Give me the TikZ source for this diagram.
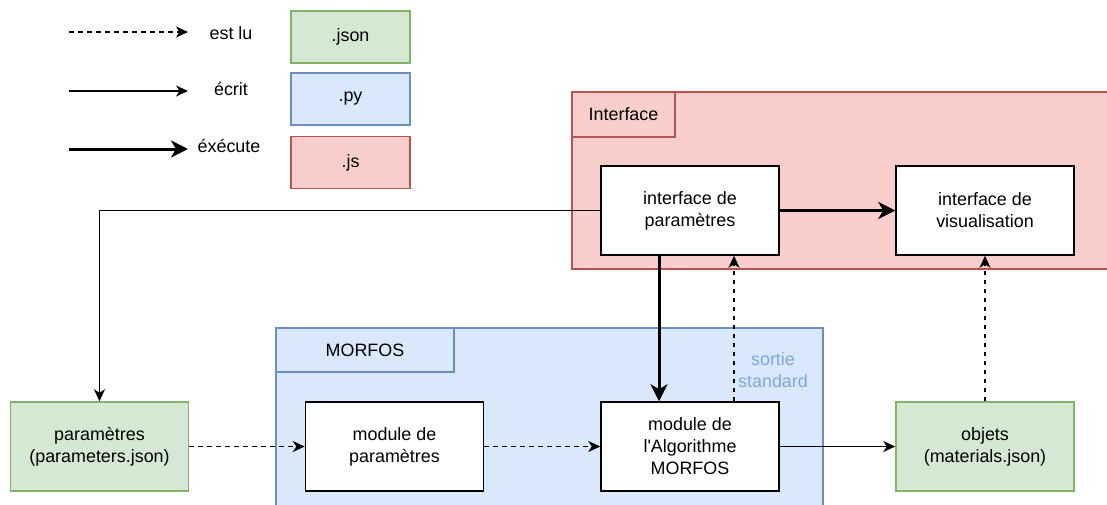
\documentclass[tikz,border=0pt]{standalone}
\usepackage{fontspec}
\setmainfont{Liberation Sans}
\usetikzlibrary{arrows.meta}
\definecolor{gfill}{HTML}{D5E8D4}
\definecolor{gline}{HTML}{82B366}
\definecolor{bfill}{HTML}{DAE8FC}
\definecolor{bline}{HTML}{6C8EBF}
\definecolor{rfill}{HTML}{F8CECC}
\definecolor{rline}{HTML}{B85450}
\definecolor{sortiec}{HTML}{7EA6E0}
\begin{document}
\begin{tikzpicture}[x=1pt,y=-1pt,
  font=\fontsize{17.9}{22}\selectfont,
  base/.style={line width=1.5pt, align=center, inner sep=0pt, minimum width=178pt, minimum height=89pt},
  wbox/.style={base, draw=black, fill=white},
  gbox/.style={base, draw=gline, fill=gfill},
  legbox/.style={line width=1.5pt, inner sep=0pt, minimum width=119pt, minimum height=52pt},
  tab/.style={line width=1.5pt, inner sep=0pt},
  lbl/.style={inner sep=0pt, align=center},
  readarrow/.style={line width=1.5pt, dash pattern=on 4.5pt off 4.5pt, -{Stealth[length=12pt,width=11pt,inset=3.5pt]}},
  writearrow/.style={line width=1.5pt, -{Stealth[length=12pt,width=11pt,inset=3.5pt]}},
  execarrow/.style={line width=3pt, -{Stealth[length=17pt,width=17pt,inset=5pt]}}
]
\useasboundingbox (0,0) rectangle (1107,504);

% containers
\draw[line width=1.5pt, draw=rline, fill=rfill] (572,92) rectangle (1115,269);
\node[tab, draw=rline, fill=rfill, minimum width=103pt, minimum height=45pt] (itab) at (623.5,114.5) {Interface};
\draw[line width=1.5pt, draw=bline, fill=bfill] (276,328) rectangle (823,515);
\node[tab, draw=bline, fill=bfill, minimum width=178pt, minimum height=44pt] (mtab) at (365,350) {MORFOS};

% legend
\coordinate (l1a) at (69,32);  \coordinate (l1b) at (188,32);
\coordinate (l2a) at (69,91);  \coordinate (l2b) at (188,91);
\coordinate (l3a) at (69,149); \coordinate (l3b) at (188,149);
\draw[readarrow] (l1a) -- (l1b);
\draw[writearrow] (l2a) -- (l2b);
\draw[execarrow] (l3a) -- (l3b);
\node[lbl] (t1) at (231,33) {est lu};
\node[lbl] (t2) at (231,89) {écrit};
\node[lbl] (t3) at (229,146) {éxécute};
\node[legbox, draw=gline, fill=gfill] (kjson) at (350.5,37) {.json};
\node[legbox, draw=bline, fill=bfill] (kpy) at (350.5,99) {.py};
\node[legbox, draw=rline, fill=rfill] (kjs) at (350.5,162.5) {.js};

% nodes
\node[wbox] (ip) at (690,210.5) {interface de\\paramètres};
\node[wbox] (vis) at (985,210.5) {interface de\\visualisation};
\node[gbox] (pj) at (99.5,446.5) {paramètres\\(parameters.json)};
\node[wbox] (mp) at (394.5,446.5) {module de\\paramètres};
\node[wbox] (alg) at (690,446.5) {module de\\l\textquotesingle Algorithme\\MORFOS};
\node[gbox] (obj) at (985,446.5) {objets\\(materials.json)};
\node[lbl, text=sortiec] (sortie) at (773,370) {sortie\\standard};

% connectors
\draw[writearrow] (ip.west) -| (pj.north);
\draw[execarrow] (ip) -- (vis);
\draw[readarrow] (pj) -- (mp);
\draw[readarrow] (mp) -- (alg);
\draw[writearrow] (alg) -- (obj);
\draw[execarrow] ([xshift=-31pt]ip.south) -- ([xshift=-31pt]alg.north);
\draw[readarrow] ([xshift=44pt]alg.north) -- ([xshift=44pt]ip.south);
\draw[readarrow] (obj) -- (vis);
\end{tikzpicture}
\end{document}
